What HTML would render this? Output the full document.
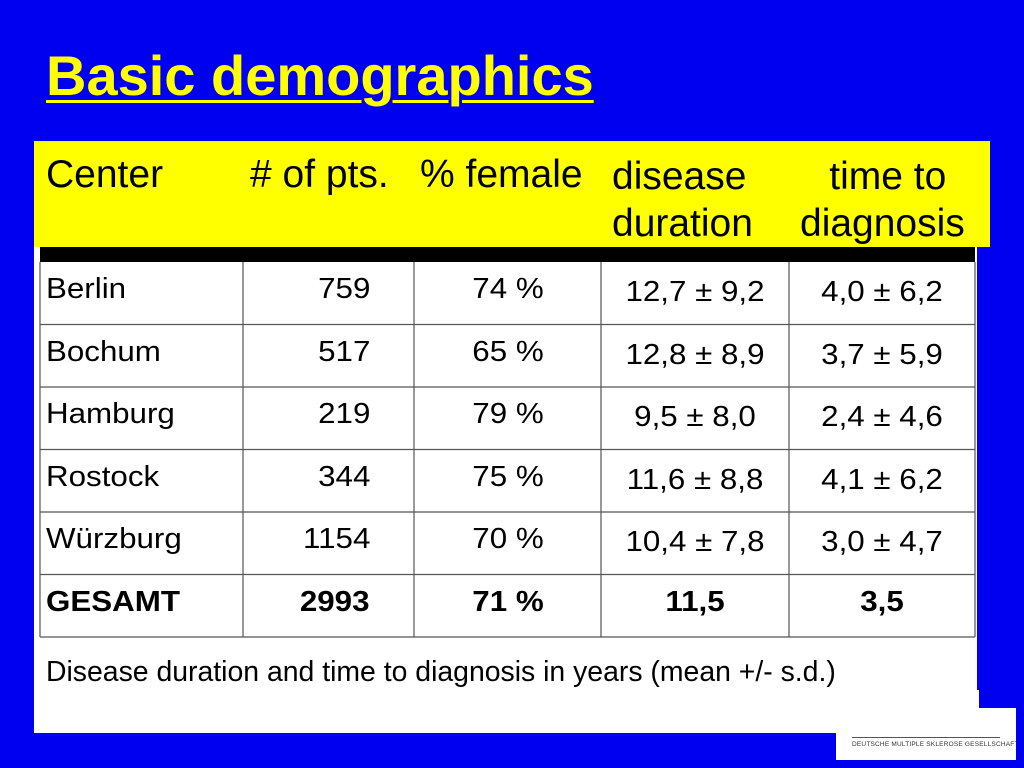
<!DOCTYPE html>
<html><head><meta charset="utf-8"><style>
body{margin:0;width:1024px;height:768px;background:#0000f0;position:relative;overflow:hidden;font-family:"Liberation Sans",sans-serif}
.a{position:absolute;white-space:nowrap}
.h{font-size:39px;color:#000}
.c{font-size:29px;color:#000}
.b{font-weight:bold}
</style></head><body>
<div class="a" style="left:46px;top:43px;font-size:56px;font-weight:bold;color:#ffff00;text-decoration:underline;text-decoration-thickness:3px;text-underline-offset:5px">Basic demographics</div>
<div class="a" style="left:34px;top:141px;width:943px;height:558px;background:#fff"></div>
<div class="a" style="left:34px;top:690px;width:945px;height:43px;background:#fff"></div>
<div class="a" style="left:34px;top:141px;width:956px;height:106px;background:#ffff00"></div>
<div class="a" style="left:40px;top:247px;width:935px;height:15px;background:#000"></div>
<div class="a h" style="left:46px;top:153px">Center</div>
<div class="a h" style="left:250px;top:153px"># of pts.</div>
<div class="a h" style="left:420px;top:153px">% female</div>
<div class="a h" style="left:612px;top:153px;line-height:47px">disease<br>duration</div>
<div class="a h" style="left:800px;top:153px;line-height:47px;text-align:center">&nbsp;time to<br>diagnosis</div>
<svg class="a" style="left:0;top:0" width="1024" height="768" id="g"></svg>
<div id="rows"></div>
<div class="a" style="left:46px;top:656px;font-size:28.4px;color:#000">Disease duration and time to diagnosis in years (mean +/- s.d.)</div>
<div class="a" style="left:836px;top:708px;width:180px;height:52px;background:#fff;overflow:hidden">
<div class="a" style="left:16px;top:29px;width:148px;height:1px;background:#555"></div>
<div class="a" style="left:16px;top:33px;font-size:6.5px;letter-spacing:0.2px;color:#333">DEUTSCHE MULTIPLE SKLEROSE GESELLSCHAFT</div></div>
<script>
const centers=["Berlin","Bochum","Hamburg","Rostock","Würzburg","GESAMT"];
const pts=["759","517","219","344","1154","2993"];
const female=["74 %","65 %","79 %","75 %","70 %","71 %"];
const duration=["12,7 ± 9,2","12,8 ± 8,9","9,5 ± 8,0","11,6 ± 8,8","10,4 ± 7,8","11,5"];
const diagnosis=["4,0 ± 6,2","3,7 ± 5,9","2,4 ± 4,6","4,1 ± 6,2","3,0 ± 4,7","3,5"];
const cols=[40,243,414,601,789,975];
const top0=262,rh=62.5;
const g=document.getElementById('g');
let s='';
cols.forEach(x=>{s+=`<line x1="${x}" y1="${top0}" x2="${x}" y2="${top0+rh*6}" stroke="#555" stroke-width="1.2"/>`;});
for(let i=1;i<=6;i++){const y=top0+rh*i;s+=`<line x1="40" y1="${y}" x2="975" y2="${y}" stroke="#555" stroke-width="1.2"/>`;}
g.innerHTML=s;
const R=document.getElementById('rows');
centers.forEach((c,i)=>{
  const y=top0+rh*i+11;
  const bold=i===5?' b':'';
  const cells=[[c,46,'left'],[pts[i],370,'right'],[female[i],508,'center'],[duration[i],695,'center'],[diagnosis[i],882,'center']];
  cells.forEach((cl,j)=>{
    const d=document.createElement('div');
    d.className='a c'+bold;
    
    
    d.textContent=cl[0];
    const dy=(j>=3&&i<5)?3:0;
    d.style.top=(y+dy)+'px';
    if(cl[2]==='left'){d.style.left=cl[1]+'px';d.style.transformOrigin='left';}
    else if(cl[2]==='right'){d.style.right=(1024-cl[1])+'px';d.style.transformOrigin='right';}
    else{d.style.left=(cl[1]-100)+'px';d.style.width='200px';d.style.textAlign='center';d.style.transformOrigin='center';}
    d.style.transform='scaleX(1.08)';
    R.appendChild(d);
  });
});
</script>
</body></html>
